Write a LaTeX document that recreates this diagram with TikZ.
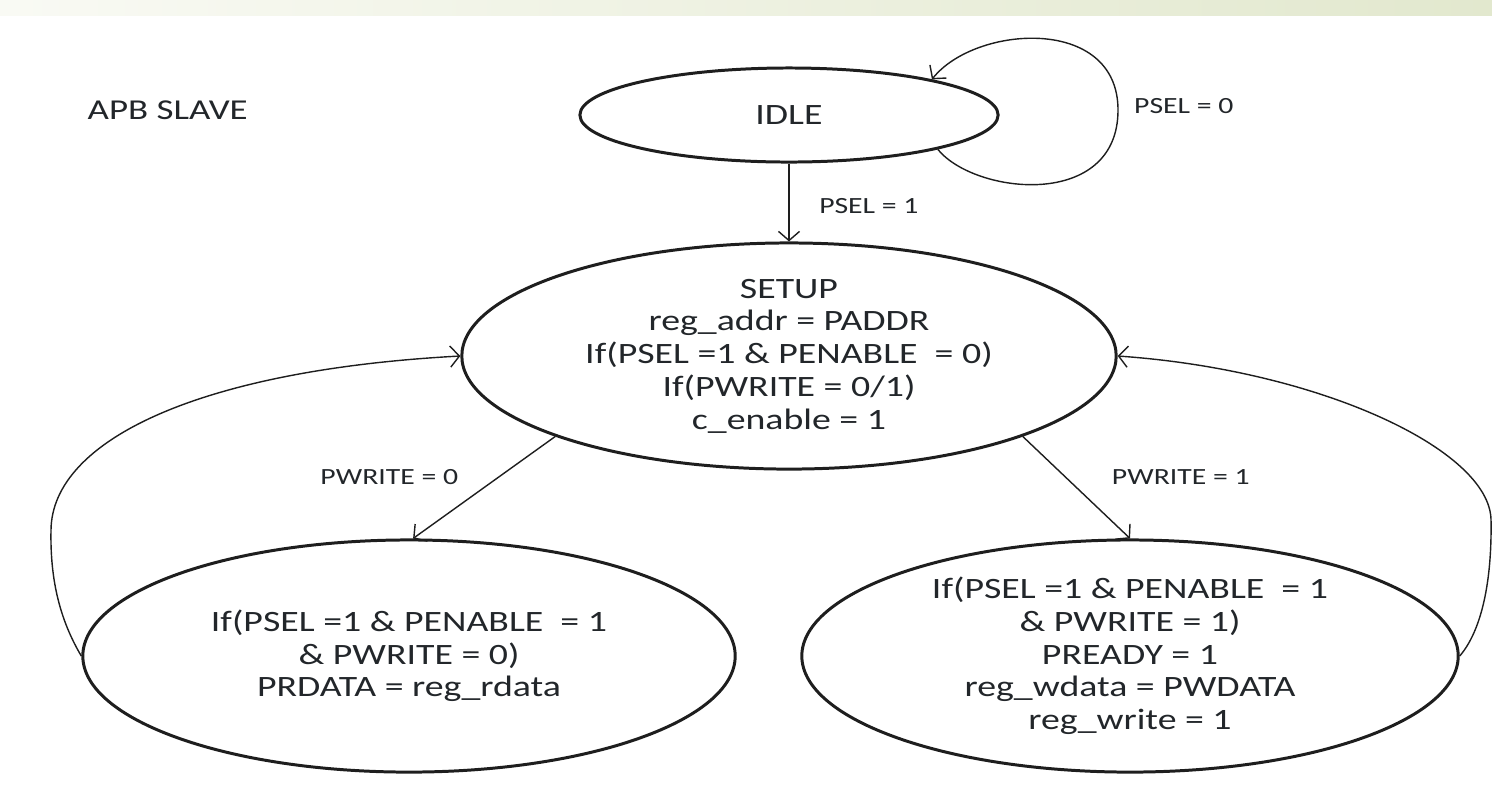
\documentclass[tikz,border=0pt]{standalone}
\usepackage{fontspec}
\setmainfont[FakeStretch=1.28]{Carlito}
\usetikzlibrary{positioning, arrows.meta, shapes.geometric}
\definecolor{trazo}{HTML}{1E1E1E}
\definecolor{texto}{HTML}{22262A}
\definecolor{bandaizq}{HTML}{F9FAF4}
\definecolor{bandader}{HTML}{E2E8CE}
\tikzset{
  fsmstate/.style={ellipse, draw=trazo, line width=0.85pt, inner sep=0pt, align=center,
    text=texto, font=\fontsize{8.4}{9.3}\selectfont},
  cond/.style={text=texto, font=\fontsize{6.6}{7.5}\selectfont, inner sep=1pt},
  trans/.style={draw=trazo, line width=0.4pt, -{Straight Barb[length=2.6pt,width=6pt]}}
}
\begin{document}
\begin{tikzpicture}[x=0.01cm, y=-0.01cm]
  \useasboundingbox (0,0) rectangle (1492,790);
  \shade[left color=bandaizq, right color=bandader] (0,0) rectangle (1492,15);
  \node[text=texto, font=\fontsize{8.2}{9}\selectfont, anchor=west, inner sep=0pt] (title) at (87,110) {APB SLAVE};
  \node[fsmstate, minimum width=4.18cm, minimum height=0.94cm] (idle) at (789,115) {IDLE};
  \node[fsmstate, minimum width=6.54cm, minimum height=2.26cm] (setup) at (789,356)
    {SETUP\\ reg\_addr = PADDR\\ If(PSEL =1 \& PENABLE~ = 0)\\ If(PWRITE = 0/1)\\ c\_enable = 1};
  \node[fsmstate, minimum width=6.52cm, minimum height=2.32cm] (read) at (409,656)
    {If(PSEL =1 \& PENABLE~ = 1\\ \& PWRITE = 0)\\ PRDATA = reg\_rdata};
  \node[fsmstate, minimum width=6.56cm, minimum height=2.32cm] (write) at (1130,656)
    {If(PSEL =1 \& PENABLE~ = 1\\ \& PWRITE = 1)\\ PREADY = 1\\ reg\_wdata = PWDATA\\ reg\_write = 1};

  \draw[trans] (idle.-13) .. controls (975,195) and (1118,210) .. (1118,110)
    .. controls (1118,15) and (975,25) .. (idle.14);
  \node[cond, anchor=west] (psel0) at (1130,106) {PSEL = 0};
  \draw[trans] (idle) -- node[cond, pos=0.55, right=0.26cm] (psel1) {PSEL = 1} (setup);
  \draw[trans] (setup.199.5) -- node[cond, pos=0.4, left=0.36cm] (pw0) {PWRITE = 0} (read.88);
  \draw[trans] (setup.-19.5) -- node[cond, pos=0.4, right=0.42cm] (pw1) {PWRITE = 1} (write.north);
  \draw[trans] (read.west) .. controls (60,620) and (50,580) .. (51,530)
    .. controls (52,440) and (200,370) .. (setup.west);
  \draw[trans] (write.east) .. controls (1482,630) and (1492,580) .. (1491,520)
    .. controls (1490,450) and (1320,370) .. (setup.east);
\end{tikzpicture}
\end{document}
